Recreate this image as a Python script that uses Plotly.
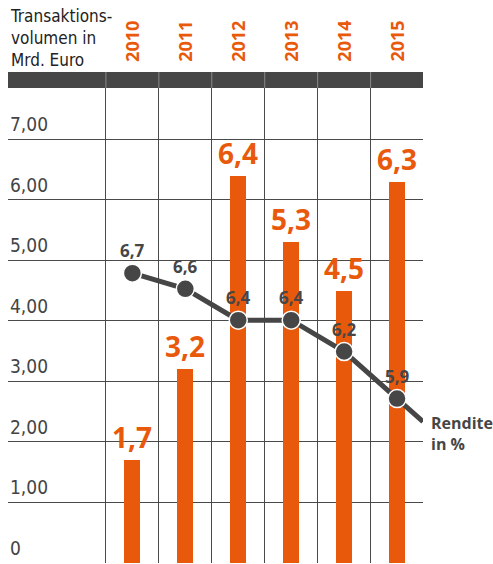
import plotly.graph_objects as go

years = ["2010", "2011", "2012", "2013", "2014", "2015"]
volumen = [1.7, 3.2, 6.4, 5.3, 4.5, 6.3]
volumen_labels = ["1,7", "3,2", "6,4", "5,3", "4,5", "6,3"]
rendite = [6.7, 6.6, 6.4, 6.4, 6.2, 5.9]
rendite_labels = ["6,7", "6,6", "6,4", "6,4", "6,2", "5,9"]
y_ticks = [0, 1, 2, 3, 4, 5, 6, 7]
y_tick_labels = ["0", "1,00", "2,00", "3,00", "4,00", "5,00", "6,00", "7,00"]

ORANGE = "#E8590C"
DARK = "#464646"
COND = "Liberation Sans Narrow, DejaVu Sans Condensed, Roboto, sans-serif"
BOLD = "Open Sans, Roboto, sans-serif"

x = list(range(len(years)))

fig = go.Figure()
fig.add_trace(go.Bar(x=x, y=volumen, width=0.3, marker=dict(color=ORANGE, line=dict(width=0)),
                     hoverinfo="skip", showlegend=False))

# tail extension of the Rendite line (continuing the last segment)
ext = 0.49
tail_x = [x[-1], x[-1] + ext]
tail_y = [rendite[-1], rendite[-1] + (rendite[-1] - rendite[-2]) * ext]
fig.add_trace(go.Scatter(x=tail_x, y=tail_y, yaxis="y2", mode="lines",
                         line=dict(color=DARK, width=5), showlegend=False, hoverinfo="skip"))
fig.add_trace(go.Scatter(x=x, y=rendite, yaxis="y2", mode="lines+markers",
                         line=dict(color=DARK, width=5),
                         marker=dict(size=18, color=DARK, line=dict(color="white", width=1.5)),
                         showlegend=False, hoverinfo="skip"))

H, T, B = 564, 88, 1
ph = H - T - B
def py(p):
    return (H - B - p) / ph

ann = []
for xi, v, t in zip(x, volumen, volumen_labels):
    ann.append(dict(x=xi, y=v, xref="x", yref="y", text=t, showarrow=False, yanchor="bottom",
                    yshift=2, font=dict(family=BOLD, size=28, color=ORANGE, weight="bold")))
for xi, v, t in zip(x, rendite, rendite_labels):
    ann.append(dict(x=xi, y=v, xref="x", yref="y2", text=t, showarrow=False, yanchor="bottom",
                    yshift=9, font=dict(family=BOLD, size=17, color=DARK, weight="bold")))
for v, t in zip(y_ticks, y_tick_labels):
    ann.append(dict(x=0, y=v, xref="paper", yref="y", text=t, showarrow=False, xanchor="left",
                    yanchor="bottom", yshift=2, font=dict(family=COND, size=19, color="#444444")))
for xi, yr in zip(x, years):
    ann.append(dict(x=xi, y=py(64), xref="x", yref="paper", text=yr, showarrow=False, textangle=-90,
                    yanchor="bottom", xanchor="center",
                    font=dict(family=BOLD, size=18, color=ORANGE, weight="bold")))
ann.append(dict(x=0, y=py(4), xref="paper", yref="paper", text="Transaktions-<br>volumen in<br>Mrd. Euro",
                showarrow=False, xanchor="left", yanchor="top", align="left",
                font=dict(family=COND, size=17, color="#222222")))
ann.append(dict(x=tail_x[1], y=tail_y[1], xref="x", yref="y2", text="Rendite<br>in %", showarrow=False,
                xanchor="left", yanchor="top", align="left", xshift=6, yshift=12,
                font=dict(family=BOLD, size=16, color=DARK, weight="bold")))

shapes = [dict(type="rect", xref="paper", yref="paper", x0=0, x1=1, y0=1, y1=py(72),
               fillcolor=DARK, line=dict(width=0), layer="above")]
for b in [-0.5, 0.5, 1.5, 2.5, 3.5, 4.5]:
    shapes.append(dict(type="line", xref="x", yref="paper", x0=b, x1=b, y0=1, y1=py(72),
                       line=dict(color="#8a8a8a", width=1), layer="above"))

fig.update_layout(
    width=493, height=564, margin=dict(l=8, r=70, t=T, b=B),
    paper_bgcolor="white", plot_bgcolor="white",
    xaxis=dict(range=[-2.35, 5.49], tickvals=[-0.5, 0.5, 1.5, 2.5, 3.5, 4.5], showticklabels=False,
               showgrid=True, gridcolor="#4a4a4a", gridwidth=1.3, zeroline=False, ticks=""),
    yaxis=dict(range=[0, 7.85], tickvals=y_ticks, showticklabels=False, showgrid=True,
               gridcolor="#4a4a4a", gridwidth=1.3, zeroline=False, ticks=""),
    yaxis2=dict(range=[4.851, 7.881], overlaying="y", side="right", showgrid=False,
                showticklabels=False, zeroline=False, ticks=""),
    annotations=ann, shapes=shapes, bargap=0,
)
fig.write_html("out.html")
